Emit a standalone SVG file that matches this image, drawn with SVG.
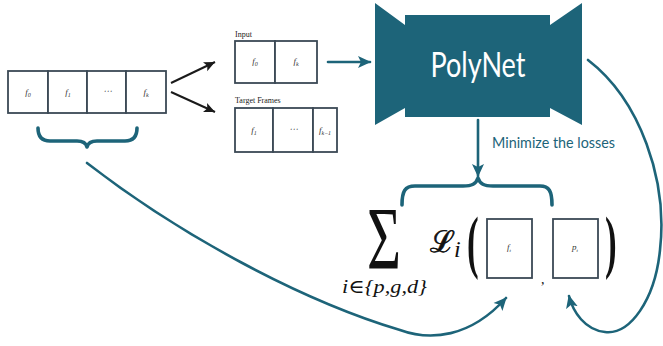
<svg xmlns="http://www.w3.org/2000/svg" width="663" height="346" viewBox="0 0 663 346">
  <style>
    .cell { fill: #ffffff; stroke: #3b4955; stroke-width: 1.8; }
    .lbl { font-family: "Liberation Serif", "DejaVu Serif", serif; font-style: italic; font-size: 9px; fill: #333333; text-anchor: middle; }
    .cap { font-family: "Liberation Serif", serif; font-size: 8px; fill: #222222; }
    .teal { fill: none; stroke: #1d6479; stroke-width: 2.6; stroke-linecap: round; }
    .brace { fill: none; stroke: #1d6479; stroke-width: 3.6; stroke-linecap: round; stroke-linejoin: round; }
    .black { fill: none; stroke: #1a1a1a; stroke-width: 2; }
    .math { font-family: "Liberation Serif", "DejaVu Serif", serif; fill: #111111; }
  </style>
  <defs>
    <marker id="tealHead" markerUnits="userSpaceOnUse" markerWidth="14" markerHeight="14" viewBox="0 0 14 14" refX="12" refY="7" orient="auto">
      <path d="M0,1 L13,7 L0,13 L3,7 Z" fill="#1d6479"/>
    </marker>
    <marker id="blackHead" markerUnits="userSpaceOnUse" markerWidth="12" markerHeight="12" viewBox="0 0 12 12" refX="11" refY="6" orient="auto">
      <path d="M0,1 L11,6 L0,11 L2.5,6 Z" fill="#1a1a1a"/>
    </marker>
  </defs>

  <!-- full frame sequence -->
  <g id="sequence">
    <rect class="cell" x="8" y="71" width="40" height="42"/>
    <rect class="cell" x="48" y="71" width="39" height="42"/>
    <rect class="cell" x="87" y="71" width="39" height="42"/>
    <rect class="cell" x="126" y="71" width="40" height="42"/>
    <text class="lbl" x="28" y="95">f<tspan font-size="6" dy="2">0</tspan></text>
    <text class="lbl" x="68" y="95">f<tspan font-size="6" dy="2">1</tspan></text>
    <text class="lbl" x="107" y="94">⋯</text>
    <text class="lbl" x="146" y="95">f<tspan font-size="6" dy="2">k</tspan></text>
    <path class="brace" d="M38,128 C38,137 42,141 50,141 L77,141 C83,141 86,143 87,147 C88,143 91,141 97,141 L125,141 C133,141 137,137 137,128"/>
  </g>

  <!-- input frames -->
  <g id="input">
    <text class="cap" x="235" y="37">Input</text>
    <rect class="cell" x="235" y="41" width="40" height="42"/>
    <rect class="cell" x="275" y="41" width="42" height="42"/>
    <text class="lbl" x="255" y="64">f<tspan font-size="6" dy="2">0</tspan></text>
    <text class="lbl" x="296" y="64">f<tspan font-size="6" dy="2">k</tspan></text>
  </g>

  <!-- target frames -->
  <g id="targets">
    <text class="cap" x="235" y="103">Target Frames</text>
    <rect class="cell" x="235" y="108" width="38" height="44"/>
    <rect class="cell" x="273" y="108" width="40" height="44"/>
    <rect class="cell" x="313" y="108" width="24" height="44"/>
    <text class="lbl" x="254" y="133">f<tspan font-size="6" dy="2">1</tspan></text>
    <text class="lbl" x="293" y="132">⋯</text>
    <text class="lbl" x="325" y="133">f<tspan font-size="6" dy="2">k−1</tspan></text>
  </g>

  <!-- network block -->
  <g id="polynet">
    <path d="M375,3 L405,25 L405,15 L550,15 L550,25 L582,3 L582,125 L550,108 L550,117 L405,117 L405,108 L375,125 Z" fill="#1d6479"/>
    <text x="478" y="77" font-family="Lato, 'Open Sans', sans-serif" font-size="34" fill="#ffffff" text-anchor="middle" textLength="95" lengthAdjust="spacingAndGlyphs">PolyNet</text>
  </g>

  <!-- loss expression -->
  <g id="loss">
    <text x="492" y="148" font-family="Lato, 'Open Sans', sans-serif" font-size="15" fill="#1d6479" textLength="123" lengthAdjust="spacingAndGlyphs">Minimize the  losses</text>
    <path class="brace" d="M402,205 C402,191 405,186 415,186 L463,186 C472,186 476,184 478,178 C480,184 484,186 493,186 L540,186 C549,186 552,191 552,205"/>
    <!-- summation sign with its index set underneath -->
    <text class="math"><tspan x="367" y="268" font-size="88" textLength="34" lengthAdjust="spacingAndGlyphs">Σ</tspan><tspan x="342" y="293" font-size="19" font-style="italic" textLength="85" lengthAdjust="spacingAndGlyphs">i∈{p,g,d}</tspan></text>
    <!-- loss symbol with subscript -->
    <text x="430" y="252" fill="#111111"><tspan font-family="'DejaVu Serif', serif" font-size="30" stroke="#111111" stroke-width="0.7">ℒ</tspan><tspan font-family="'Liberation Serif', serif" font-style="italic" font-size="24" dx="-1" dy="5">i</tspan></text>
    <text class="math" transform="translate(467,265) scale(0.5,1)" font-size="70" font-weight="bold">(</text>
    <text class="math" transform="translate(605,265) scale(0.5,1)" font-size="70" font-weight="bold">)</text>
    <text class="math" x="541" y="284" font-size="14">,</text>
  </g>

  <g id="frame-target">
    <rect class="cell" x="487" y="219" width="45" height="59"/>
    <text class="lbl" x="509" y="250" font-size="8">f<tspan font-size="5" dy="2">t</tspan></text>
  </g>

  <g id="frame-pred">
    <rect class="cell" x="553" y="219" width="45" height="59"/>
    <text class="lbl" x="575" y="250" font-size="8">p<tspan font-size="5" dy="2">t</tspan></text>
  </g>

  <!-- connectors -->
  <g id="connectors">
    <line class="black" x1="171" y1="83" x2="215" y2="62" marker-end="url(#blackHead)"/>
    <line class="black" x1="171" y1="92" x2="215" y2="112" marker-end="url(#blackHead)"/>
    <line class="teal" x1="328" y1="62" x2="370" y2="62" marker-end="url(#tealHead)"/>
    <line class="teal" x1="478" y1="120" x2="478" y2="176" marker-end="url(#tealHead)"/>
    <path class="teal" d="M87,163 C180,235 300,300 400,330 C430,341 470,338 506,298" marker-end="url(#tealHead)"/>
    <path class="teal" d="M588,60 C640,100 668,180 660,250 C655,300 630,335 605,332 C585,330 573,312 569,296" marker-end="url(#tealHead)"/>
  </g>
</svg>
